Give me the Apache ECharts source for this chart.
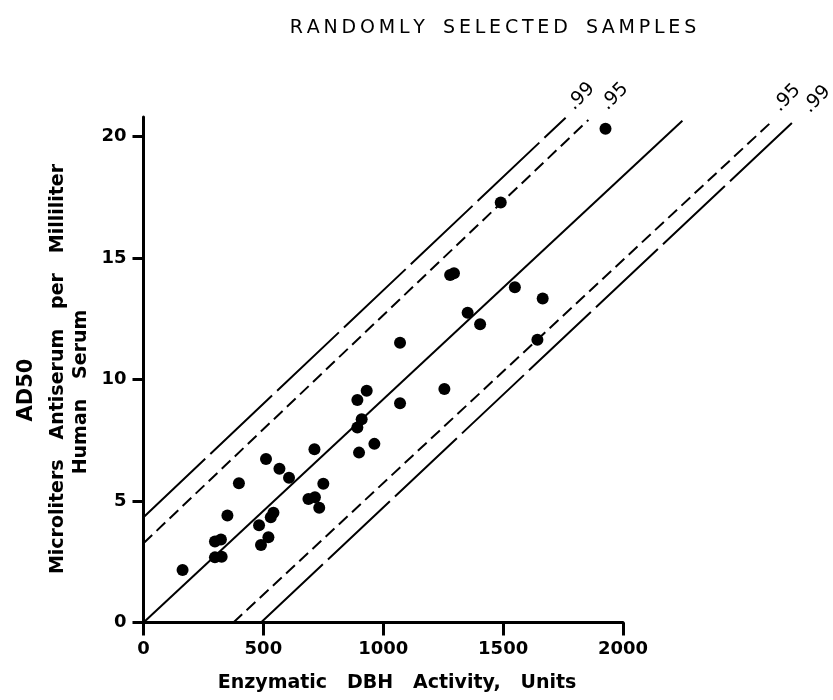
<!DOCTYPE html>
<html>
<head>
<meta charset="utf-8">
<script src="https://cdn.jsdelivr.net/npm/echarts@6/dist/echarts.min.js"></script>
<style>
  html, body { margin: 0; padding: 0; background: #fff; }
  #main { width: 833px; height: 700px; }
</style>
</head>
<body>
<div id="main"></div>
<script>
// DBH activity (units) vs AD50 (microliters antiserum / ml serum)
const dbhUnits = [163, 298, 323, 298, 326, 350, 398, 511, 567, 607, 713, 750, 688, 715, 733,
  542, 531, 482, 521, 490, 1070, 931, 892, 1070, 910, 892, 963, 899, 1255, 1643,
  1490, 1279, 1295, 1549, 1665, 1352, 1404, 1927];
const ad50 = [2.16, 3.33, 3.42, 2.68, 2.71, 4.40, 5.73, 6.73, 6.33, 5.96, 7.13, 5.71, 5.08, 5.15, 4.72,
  4.52, 4.33, 4.00, 3.51, 3.19, 11.51, 9.54, 9.16, 9.02, 8.36, 8.02, 7.35, 6.99, 9.61, 11.63,
  17.28, 14.30, 14.37, 13.79, 13.33, 12.75, 12.27, 20.32];

// regression line and confidence bands: [start, end] points
const centerLine = [[0, 0], [2248, 20.65]];
const upper99 = [[0, 4.33], [1761, 20.77]];
const upper95 = [[0, 3.26], [1856, 20.68]];
const lower95 = [[375, 0], [2625, 20.65]];
const lower99 = [[490, 0], [2715, 20.65]];

const xTicks = [0, 500, 1000, 1500, 2000];
const yTicks = [0, 5, 10, 15, 20];

const FONT = 'DejaVu Sans';
const TS = '\u2009'; // thin space, used to spread the title letters

// put a rotated level label on the end point of a band line
// (offset is in the label's rotated frame)
const withLabel = (pts, text, off) => pts.map((p, i) => {
  if (i < pts.length - 1 || !text) return p;
  return {
    value: p,
    symbol: 'circle',
    symbolSize: 0,
    label: {
      show: true,
      formatter: text,
      position: 'inside',
      offset: off,
      rotate: 45,
      color: '#000',
      fontFamily: FONT,
      fontSize: 19
    }
  };
});

// band lines live on a wider, hidden grid with the same scale so they can run past 2000
const bandLine = (pts, type, label, off) => ({
  type: 'line',
  xAxisIndex: 1,
  yAxisIndex: 1,
  data: withLabel(pts, label, off),
  showSymbol: true,
  symbol: 'none',
  silent: true,
  lineStyle: { color: '#000', width: 2, type: type }
});

const spread = (s) => s.split('').join(TS);

const option = {
  backgroundColor: '#fff',
  animation: false,
  title: {
    text: spread('RANDOMLY') + '   ' + spread('SELECTED') + '   ' + spread('SAMPLES'),
    left: 488,
    top: 14,
    textAlign: 'center',
    textStyle: { fontFamily: FONT, fontSize: 19, fontWeight: 'normal', color: '#000' }
  },
  grid: [
    { left: 143.5, right: 210, top: 117, bottom: 77.5 },
    { left: 143.5, right: 18.3, top: 117, bottom: 77.5 }
  ],
  xAxis: [{
    type: 'value',
    gridIndex: 0,
    min: 0,
    max: 2000,
    interval: 500,
    axisLine: { lineStyle: { color: '#000', width: 3 } },
    axisTick: { length: 13, lineStyle: { color: '#000', width: 3 } },
    axisLabel: { customValues: xTicks, formatter: (v) => String(v), margin: 18,
      color: '#000', fontFamily: FONT, fontSize: 18, fontWeight: 'bold' },
    splitLine: { show: false }
  }, {
    type: 'value',
    gridIndex: 1,
    min: 0,
    max: 2800,
    show: false
  }],
  yAxis: [{
    type: 'value',
    gridIndex: 0,
    min: 0,
    max: 20.8,
    interval: 5,
    axisLine: { lineStyle: { color: '#000', width: 3 } },
    axisTick: { customValues: yTicks, length: 11, lineStyle: { color: '#000', width: 3 } },
    axisLabel: { customValues: yTicks, margin: 17, color: '#000', fontFamily: FONT, fontSize: 18, fontWeight: 'bold' },
    splitLine: { show: false }
  }, {
    type: 'value',
    gridIndex: 1,
    min: 0,
    max: 20.8,
    show: false
  }],
  graphic: [
    { type: 'text', x: 27, y: 390, rotation: Math.PI / 2,
      style: { text: 'AD50', font: 'bold 21px "DejaVu Sans"', fill: '#000',
        align: 'center', verticalAlign: 'middle', textAlign: 'center', textVerticalAlign: 'middle' } },
    { type: 'text', x: 58, y: 369, rotation: Math.PI / 2,
      style: { text: 'Microliters   Antiserum   per   Milliliter', font: 'bold 19px "DejaVu Sans"', fill: '#000',
        align: 'center', verticalAlign: 'middle', textAlign: 'center', textVerticalAlign: 'middle' } },
    { type: 'text', x: 81, y: 392, rotation: Math.PI / 2,
      style: { text: 'Human   Serum', font: 'bold 19px "DejaVu Sans"', fill: '#000',
        align: 'center', verticalAlign: 'middle', textAlign: 'center', textVerticalAlign: 'middle' } },
    { type: 'text', x: 397, y: 683,
      style: { text: 'Enzymatic   DBH   Activity,   Units', font: 'bold 19px "DejaVu Sans"', fill: '#000',
        align: 'center', verticalAlign: 'middle', textAlign: 'center', textVerticalAlign: 'middle' } }
  ],
  series: [
    bandLine(centerLine, 'solid', '', [0, 0]),
    bandLine(upper99, [85, 7], '.99', [26, -4]),
    bandLine(upper95, [12, 6], '.95', [35, 2]),
    bandLine(lower95, [12, 6], '.95', [26, -6]),
    bandLine(lower99, [85, 7], '.99', [31, 1]),
    {
      type: 'scatter',
      xAxisIndex: 0,
      yAxisIndex: 0,
      data: dbhUnits.map((x, i) => [x, ad50[i]]),
      symbol: 'circle',
      symbolSize: 12,
      itemStyle: { color: '#000', opacity: 1 },
      z: 5
    }
  ]
};

echarts.init(document.getElementById('main')).setOption(option);
</script>
</body>
</html>
